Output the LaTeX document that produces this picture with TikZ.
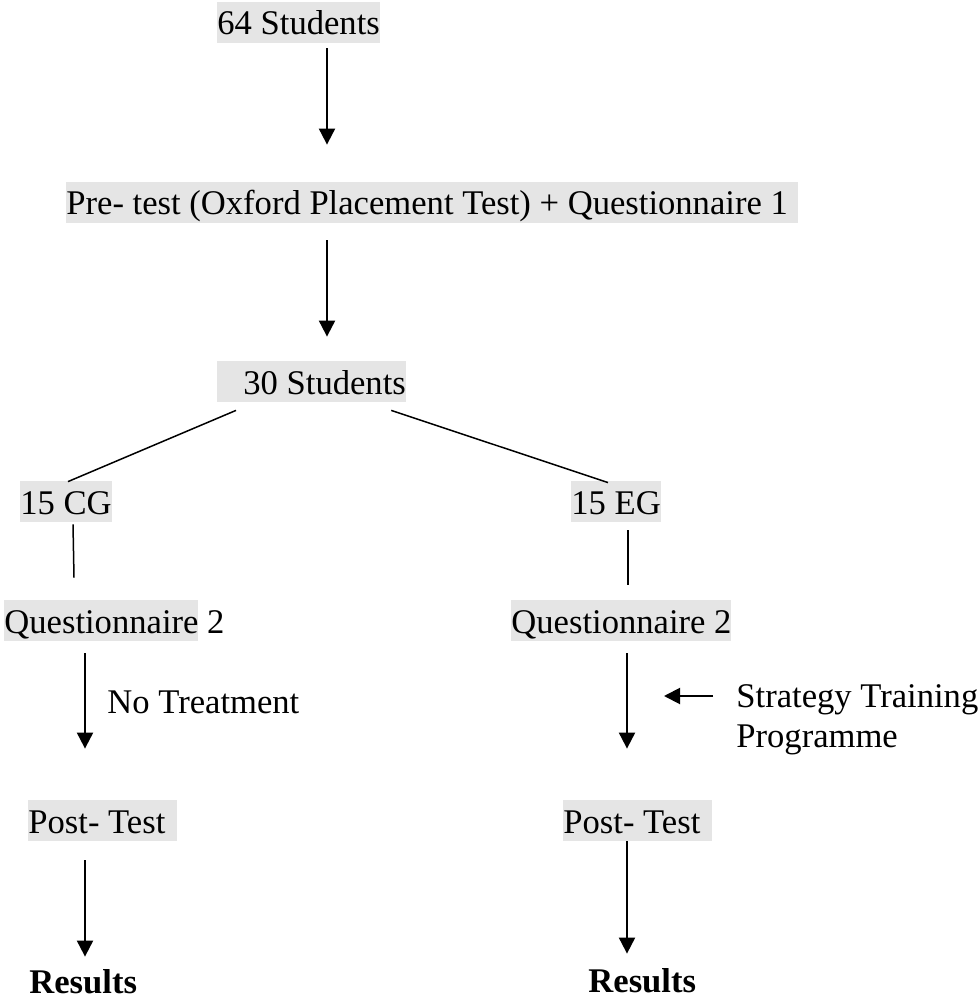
\documentclass[tikz,border=0pt]{standalone}
\usepackage{fontspec}
\setmainfont{Liberation Serif}
\usetikzlibrary{arrows.meta, calc}
\newcommand{\diagfont}{\fontsize{17.3}{20}\selectfont}
\newcommand{\hlword}[1]{{\setlength{\fboxsep}{0pt}\colorbox{black!10}{\rule[-4pt]{0pt}{20.5pt}#1}}}
\tikzstyle{hlbox} = [fill=black!10, inner sep=0, anchor=base west, text height=16.5pt, text depth=4pt]
\tikzstyle{plain} = [inner sep=0, anchor=base west, text height=16.5pt, text depth=4pt]
\tikzstyle{sidenote} = [inner sep=0, anchor=base west, align=left]
\tikzstyle{arrowline} = [line width=1pt, -{Triangle[length=8pt,width=8pt]}]
\tikzstyle{branch} = [line width=0.75pt]

\begin{document}
\begin{tikzpicture}[x=0.5pt, y=-0.5pt, font=\diagfont]
    \useasboundingbox (0,0) rectangle (978,999);

    % Columns of the arrows
    \coordinate (spine) at (327,0);
    \coordinate (colL) at (85,0);
    \coordinate (colR) at (627,0);
    \coordinate (stip) at (664,696);

    % Selection
    \node (n64) at (217,35) [hlbox] {64 Students};
    \node (pretest) at (66,215) [hlbox] {Pre- test (Oxford Placement Test) + Questionnaire 1\hspace*{5pt}};
    \node (n30) at (217,394) [hlbox] {\hspace*{13pt}30 Students};
    \draw[arrowline, shorten <=2.5pt, shorten >=18.5pt] (n64.south -| spine) -- (pretest.north -| spine);
    \draw[arrowline, shorten <=8.5pt, shorten >=12pt] (pretest.south -| spine) -- (n30.north -| spine);

    % Split into two groups
    \node (cg) at (20,514) [hlbox] {15 CG};
    \node (eg) at (571,514) [hlbox] {15 EG};
    \draw[branch] ($(n30.south west)+(19,8)$) -- ($(cg.north west)+(48,1)$);
    \draw[branch] ($(n30.south east)+(-15,8)$) -- ($(eg.north west)+(37,2)$);

    % Control group
    \node (q2l) at (4,633) [plain] {\hlword{Questionnaire} 2};
    \draw[branch] ($(cg.south west)+(53,2)$) -- ($(q2l.north west)+(70,-22)$);
    \node (notreat) at (107,713) [plain] {No Treatment};
    \node (postl) at (28,833) [hlbox] {Post- Test\hspace*{6pt}};
    \node (resl) at (29,993) [plain, font=\diagfont\bfseries] {Results};
    \draw[arrowline, shorten <=6pt, shorten >=25.5pt] (q2l.south -| colL) -- (postl.north -| colL);
    \draw[arrowline, shorten <=9.5pt, shorten >=1.5pt] (postl.south -| colL) -- (resl.north -| colL);

    % Experimental group
    \node (q2r) at (511,633) [hlbox] {Questionnaire 2};
    \draw[branch] ($(eg.south west)+(57,8)$) -- ($(q2r.north west)+(117,-15)$);
    \node (strategy) at (736,747) [sidenote] {Strategy Training\\Programme};
    \draw[arrowline, shorten <=11.5pt] (stip -| strategy.west) -- (stip);
    \node (postr) at (563,833) [hlbox] {Post- Test\hspace*{6pt}};
    \node (resr) at (588,992) [plain, font=\diagfont\bfseries] {Results};
    \draw[arrowline, shorten <=6pt, shorten >=25.5pt] (q2r.south -| colR) -- (postr.north -| colR);
    \draw[arrowline, shorten >=2.5pt] (postr.south -| colR) -- (resr.north -| colR);

\end{tikzpicture}
\end{document}
